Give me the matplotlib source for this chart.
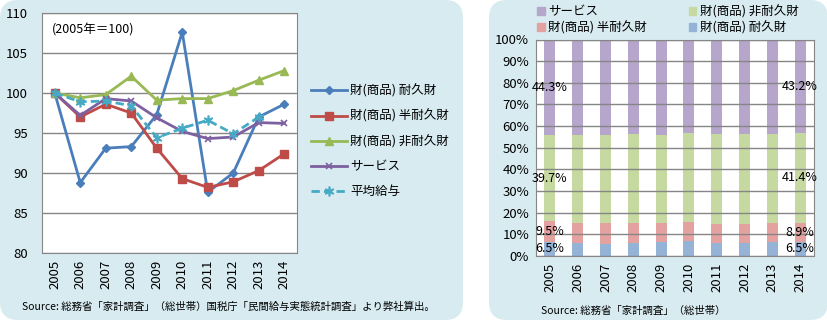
import numpy as np
import matplotlib
matplotlib.use("Agg")
import matplotlib.pyplot as plt
from matplotlib.patches import FancyBboxPatch, Patch

plt.rcParams['font.family'] = ['Noto Sans CJK JP', 'DejaVu Sans']

# data (2005 = 100)
years = ['2005', '2006', '2007', '2008', '2009', '2010', '2011', '2012', '2013', '2014']
durable = [100, 88.8, 93.1, 93.3, 97.3, 107.6, 87.6, 90.0, 97.0, 98.6]
semi_durable = [100, 97.0, 98.6, 97.5, 93.1, 89.3, 88.2, 88.9, 90.3, 92.4]
non_durable = [100, 99.4, 99.8, 102.1, 99.1, 99.3, 99.3, 100.3, 101.6, 102.8]
service = [100, 97.2, 99.3, 99.0, 96.9, 95.2, 94.3, 94.5, 96.3, 96.2]
avg_wage = [100, 98.9, 99.0, 98.4, 94.4, 95.6, 96.6, 94.9, 97.0, np.nan]

# share of spending (%)
share_durable = [6.5, 5.9, 5.7, 5.8, 6.3, 6.9, 5.8, 5.8, 6.3, 6.5]
share_semi = [9.5, 9.4, 9.5, 9.6, 9.1, 8.8, 9.0, 9.0, 8.9, 8.9]
share_non = [39.7, 40.4, 40.5, 40.9, 40.3, 41.1, 41.5, 41.4, 41.0, 41.4]
share_service = [44.3, 44.3, 44.3, 43.7, 44.3, 43.2, 43.7, 43.8, 43.8, 43.2]

W, H = 828, 322
fig = plt.figure(figsize=(W / 100, H / 100), dpi=100)
fig.patch.set_facecolor('white')

# rounded panel backgrounds
bg = fig.add_axes([0, 0, 1, 1])
bg.set_xlim(0, W)
bg.set_ylim(H, 0)
bg.axis('off')
panel_col = '#d8ebf1'
bg.add_patch(FancyBboxPatch((0, 0), 463, 320, boxstyle='round,pad=0,rounding_size=18',
                            fc=panel_col, ec='none'))
bg.add_patch(FancyBboxPatch((489, 0), 339, 320, boxstyle='round,pad=0,rounding_size=18',
                            fc=panel_col, ec='none'))


def px_axes(x0, y0, x1, y1):
    return fig.add_axes([x0 / W, 1 - y1 / H, (x1 - x0) / W, (y1 - y0) / H])


grid_col = '#868686'
tick_fs = 9.5

# ---- left: index line chart ----
ax = px_axes(42, 13, 297, 253)
x = np.arange(len(years))
l1, = ax.plot(x, durable, color='#4a7ebb', lw=2, marker='D', ms=4, label='財(商品) 耐久財')
l2, = ax.plot(x, semi_durable, color='#be4b48', lw=2, marker='s', ms=5.5, label='財(商品) 半耐久財')
l3, = ax.plot(x, non_durable, color='#98b954', lw=2, marker='^', ms=6, label='財(商品) 非耐久財')
l4, = ax.plot(x, service, color='#7d60a0', lw=2, marker='x', ms=5, mew=1.2, label='サービス')
l5, = ax.plot(x, avg_wage, color='#46aac5', lw=2, ls=(0, (3, 1.5)), marker=(6, 2, 0), ms=7,
              mew=1.2, label='平均給与')
ax.set_xlim(-0.5, 9.5)
ax.set_ylim(80, 110)
ax.set_yticks(range(80, 111, 5))
ax.set_xticks(x)
ax.set_xticklabels(years, rotation=90)
ax.tick_params(axis='both', length=0, labelsize=tick_fs)
ax.tick_params(axis='y', pad=10)
ax.tick_params(axis='x', pad=5)
ax.grid(axis='y', color=grid_col, lw=1)
ax.set_axisbelow(True)
for s in ax.spines.values():
    s.set_color(grid_col)
ax.text(0.04, 0.93, '(2005年＝100)', transform=ax.transAxes, fontsize=9, va='center')
fig.legend(handles=[l1, l2, l3, l4, l5], loc='upper left',
           bbox_to_anchor=(300 / W, 1 - 73 / H), frameon=False, fontsize=9,
           handlelength=2.9, handletextpad=0.2, labelspacing=0.95)
fig.text(22 / W, 1 - 307 / H, 'Source: 総務省「家計調査」（総世帯）国税庁「民間給与実態統計調査」より弊社算出。',
         fontsize=7.5, va='center')

# ---- right: stacked share bars ----
bx = px_axes(536, 39.5, 814, 256)
c_dur, c_semi, c_non, c_serv = '#95b3d7', '#e3a1a0', '#c6d9a0', '#b6a6cc'
bw = 0.4
bx.bar(x, share_durable, bw, color=c_dur, zorder=2)
bottom = np.array(share_durable)
bx.bar(x, share_semi, bw, bottom=bottom, color=c_semi, zorder=2)
bottom = bottom + np.array(share_semi)
bx.bar(x, share_non, bw, bottom=bottom, color=c_non, zorder=2)
bottom = bottom + np.array(share_non)
bx.bar(x, share_service, bw, bottom=bottom, color=c_serv, zorder=2)

# labels on first and last bars
for i in (0, len(years) - 1):
    base = 0
    for vals in (share_durable, share_semi, share_non, share_service):
        v = vals[i]
        bx.text(x[i], base + v / 2, f'{v:.1f}%', ha='center', va='center',
                fontsize=9, zorder=4)
        base += v

bx.set_xlim(-0.5, 9.5)
bx.set_ylim(0, 100)
bx.set_yticks(range(0, 101, 10))
bx.set_yticklabels([f'{v}%' for v in range(0, 101, 10)])
bx.set_xticks(x)
bx.set_xticklabels(years, rotation=90)
bx.tick_params(axis='both', length=0, labelsize=tick_fs)
bx.tick_params(axis='y', pad=5)
bx.tick_params(axis='x', pad=5)
bx.grid(axis='y', color=grid_col, lw=1, zorder=3)
bx.set_axisbelow(False)
for s in bx.spines.values():
    s.set_color(grid_col)

handles = [Patch(color=c_serv, label='サービス'), Patch(color=c_semi, label='財(商品) 半耐久財'),
           Patch(color=c_non, label='財(商品) 非耐久財'), Patch(color=c_dur, label='財(商品) 耐久財')]
fig.legend(handles=handles, loc='upper left', bbox_to_anchor=(526 / W, 1 + 6 / H), ncol=2,
           frameon=False, fontsize=9, handlelength=0.6, handleheight=0.6,
           handletextpad=0.3, labelspacing=0.2, columnspacing=3.3)
fig.text(541 / W, 1 - 311 / H, 'Source: 総務省「家計調査」（総世帯）', fontsize=7.5, va='center')

fig.savefig('out.png', dpi=100)
